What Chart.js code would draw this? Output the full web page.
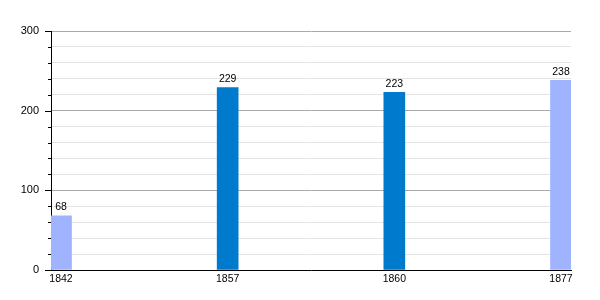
<!DOCTYPE html>
<html>
<head>
<meta charset="utf-8">
<script src="https://cdn.jsdelivr.net/npm/chart.js@4/dist/chart.umd.min.js"></script>
<style>
html,body{margin:0;padding:0;background:#fff;}
#wrap{width:600px;height:300px;}
</style>
</head>
<body>
<div id="wrap"><canvas id="c" width="600" height="300"></canvas></div>
<script>
const categories = ['1842', '1857', '1860', '1877'];
const values = [68, 229, 223, 238];
const barColors = ['#9fb3ff', '#007acc', '#007acc', '#9fb3ff'];
const yTicks = [0, 100, 200, 300];

const FONT = "'Liberation Sans', Arial, sans-serif";

const tickMarks = {
  id: 'tickMarks',
  afterDraw(chart) {
    const ctx = chart.ctx;
    const y = chart.scales.y;
    const x0 = chart.chartArea.left;
    ctx.save();
    ctx.strokeStyle = '#000';
    ctx.lineWidth = 1;
    for (let v = 0; v <= 300; v += 20) {
      const py = Math.round(y.getPixelForValue(v)) + 0.5;
      const len = (v % 100 === 0) ? 6 : 3;
      ctx.beginPath();
      ctx.moveTo(x0 - len, py);
      ctx.lineTo(x0, py);
      ctx.stroke();
    }
    ctx.restore();
  }
};

const barLabels = {
  id: 'barLabels',
  afterDatasetsDraw(chart) {
    const ctx = chart.ctx;
    const meta = chart.getDatasetMeta(0);
    ctx.save();
    ctx.font = '10.5px ' + FONT;
    ctx.fillStyle = '#000';
    ctx.textAlign = 'center';
    ctx.textBaseline = 'bottom';
    meta.data.forEach((el, i) => {
      ctx.fillText(String(values[i]), el.x, el.y - 3);
    });
    ctx.restore();
  }
};

new Chart(document.getElementById('c'), {
  type: 'bar',
  data: {
    datasets: [{
      data: values.map((v, i) => ({x: i, y: v})),
      backgroundColor: barColors,
      barThickness: 21,
      borderWidth: 0
    }]
  },
  options: {
    responsive: false,
    animation: false,
    devicePixelRatio: 1,
    layout: {padding: {top: 31, right: 29, left: 0, bottom: 0}},
    plugins: {legend: {display: false}, tooltip: {enabled: false}},
    scales: {
      x: {
        type: 'linear',
        offset: false,
        min: -0.06,
        max: 3.06,
        afterBuildTicks(scale) {
          scale.ticks = categories.map((c, i) => ({value: i}));
        },
        afterFit(scale) { scale.height = 30; },
        grid: {display: false, drawTicks: false, offset: false},
        border: {display: true, color: '#000', width: 1},
        ticks: {
          callback: (v) => categories[v] ?? '',
          font: {family: FONT, size: 10.5},
          color: '#000',
          padding: 3,
          maxRotation: 0,
          autoSkip: false
        }
      },
      y: {
        type: 'linear',
        min: 0,
        max: 300,
        afterFit(scale) { scale.width = 51; },
        ticks: {
          stepSize: 20,
          callback: (v) => yTicks.includes(v) ? String(v) : '',
          font: {family: FONT, size: 11},
          color: '#000',
          padding: 12,
          autoSkip: false
        },
        grid: {
          drawTicks: false,
          color: (ctx) => (ctx.tick && ctx.tick.value % 100 === 0) ? '#aaaaaa' : '#e4e4e4',
          lineWidth: 1
        },
        border: {display: true, color: '#000', width: 1}
      }
    }
  },
  plugins: [tickMarks, barLabels]
});
</script>
</body>
</html>
